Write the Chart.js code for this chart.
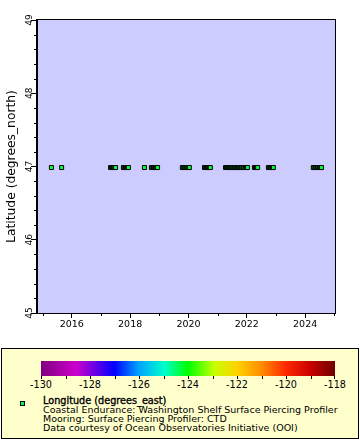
<!DOCTYPE html>
<html><head><meta charset="utf-8">
<script src="https://cdn.jsdelivr.net/npm/chart.js@4/dist/chart.umd.min.js"></script>
<style>
html,body{margin:0;padding:0;background:#fff;width:360px;height:440px;overflow:hidden;font-family:"DejaVu Sans",sans-serif;color:#000}
#wrap{position:absolute;left:0;top:0;width:360px;height:345px}
#lbox{position:absolute;left:1px;top:348px;width:356px;height:89px;border:1px solid #000;background:#ffffcc}
#cbar{position:absolute;left:41px;top:361px;width:294px;height:15px}
.ctick{position:absolute;width:1px;height:3px;background:#000;top:376px}
.clab{position:absolute;top:379px;width:40px;margin-left:-20px;text-align:center;font-size:9.7px;line-height:11px;white-space:pre}
#lmark{position:absolute;left:20px;top:401px;width:3px;height:3px;border:1px solid #000;background:#00ff40}
#ltext{position:absolute;left:43px;top:395.5px;font-size:9.5px;line-height:9px;white-space:pre}
#ltext b{font-weight:normal;font-size:9.7px;-webkit-text-stroke:0.35px #000}
</style>
</head><body>
<div id="wrap"><canvas id="c" width="360" height="345"></canvas></div>
<div id="lbox"></div>
<div id="cbar"></div>
<div id="lmark"></div>
<div id="ltext"><b>Longitude (degrees_east)</b>
Coastal Endurance: Washington Shelf Surface Piercing Profiler
Mooring: Surface Piercing Profiler: CTD
Data courtesy of Ocean Observatories Initiative (OOI)</div>
<script>
// ---- data (decimal years of profiles, latitude in degrees_north) ----
const sampleTimes = [
  2015.30,
  2015.65,
  2017.33, 2017.36, 2017.40, 2017.43, 2017.47, 2017.50,
  2017.77, 2017.80, 2017.84, 2017.87, 2017.91, 2017.94,
  2018.49,
  2018.73, 2018.76, 2018.80, 2018.83, 2018.87, 2018.90, 2018.94,
  2019.79, 2019.82, 2019.86, 2019.89, 2019.93, 2019.96, 2020.00, 2020.03,
  2020.55, 2020.58, 2020.62, 2020.65, 2020.69, 2020.72, 2020.75,
  2021.27, 2021.30, 2021.34, 2021.37, 2021.41, 2021.44, 2021.48, 2021.51,
  2021.55, 2021.58, 2021.62, 2021.65, 2021.68, 2021.72, 2021.75, 2021.79,
  2021.82, 2021.86, 2021.89, 2021.93, 2021.96, 2021.99, 2022.02,
  2022.26, 2022.30, 2022.33, 2022.37,
  2022.74, 2022.77, 2022.81, 2022.84, 2022.88, 2022.91,
  2024.28, 2024.31, 2024.35, 2024.38, 2024.42, 2024.45, 2024.49, 2024.52, 2024.56
];
const sampleLatitude = 46.986;
const sampleLongitude = -124.57;

const xMinorTicks = [2015, 2017, 2019, 2021, 2023, 2025];
const yMinorTicks = [45.2, 45.4, 45.6, 45.8, 46.2, 46.4, 46.6, 46.8, 47.2, 47.4, 47.6, 47.8, 48.2, 48.4, 48.6, 48.8];
const colorTickValues = [-130, -129, -128, -127, -126, -125, -124, -123, -122, -121, -120, -119, -118];
const colorLabelValues = [-130, -128, -126, -124, -122, -120, -118];
const colorMin = -130, colorMax = -118;

// ---- colour bar (legend) ----
const cbar = document.getElementById('cbar');
cbar.style.background = 'linear-gradient(to right,#800080 0%,#cc00cc 12%,#0000ff 25%,#00a0ff 33%,#00ffcc 42%,#00ff00 50%,#c8ff00 59%,#ffd200 66.7%,#ff8c00 75%,#ff2800 83.3%,#c80000 91.7%,#6e0000 100%)';
const cx = v => 41 + (v - colorMin) / (colorMax - colorMin) * 294;
colorTickValues.forEach(v => {
  const d = document.createElement('div');
  d.className = 'ctick';
  d.style.left = Math.min(334, Math.max(41, Math.round(cx(v)))) + 'px';
  document.body.appendChild(d);
});
colorLabelValues.forEach(v => {
  const d = document.createElement('div');
  d.className = 'clab';
  d.style.left = cx(v) + 'px';
  d.textContent = String(v);
  document.body.appendChild(d);
});

// ---- plugins ----
const framePlugin = {
  id: 'frame',
  beforeDraw(chart) {
    const {ctx, chartArea: a} = chart;
    ctx.save();
    ctx.fillStyle = '#ccccff';
    ctx.fillRect(a.left, a.top, a.right - a.left, a.bottom - a.top);
    ctx.restore();
  },
  afterDraw(chart) {
    const {ctx, chartArea: a, scales} = chart;
    ctx.save();
    ctx.strokeStyle = '#000';
    ctx.lineWidth = 1;
    ctx.strokeRect(Math.round(a.left) - 0.5, Math.round(a.top) - 0.5, Math.round(a.right - a.left) + 1, Math.round(a.bottom - a.top) + 1);
    ctx.beginPath();
    xMinorTicks.forEach(v => {
      const px = Math.round(scales.x.getPixelForValue(v)) + 0.5;
      ctx.moveTo(px, a.bottom);
      ctx.lineTo(px, a.bottom + 3);
    });
    yMinorTicks.forEach(v => {
      const py = Math.round(scales.y.getPixelForValue(v)) + 0.5;
      ctx.moveTo(a.left, py);
      ctx.lineTo(a.left - 3, py);
    });
    ctx.stroke();
    ctx.restore();
  }
};

new Chart(document.getElementById('c'), {
  type: 'scatter',
  data: {
    datasets: [{
      label: 'Longitude (degrees_east)',
      data: sampleTimes.map(t => ({x: t, y: sampleLatitude})),
      pointStyle: 'rect',
      pointRadius: 2.83,
      pointHoverRadius: 2.83,
      backgroundColor: '#00ff40',
      borderColor: '#000',
      borderWidth: 1
    }]
  },
  plugins: [framePlugin],
  options: {
    responsive: false,
    animation: false,
    events: [],
    layout: {padding: {left: 0, right: 25, top: 20, bottom: 0}},
    plugins: {legend: {display: false}, tooltip: {enabled: false}},
    scales: {
      x: {
        type: 'linear',
        min: 2014.806,
        max: 2025.023,
        afterFit(s) { s.height = 32; },
        border: {display: true, color: '#000', width: 1},
        grid: {drawOnChartArea: false, drawTicks: true, tickLength: 5, color: '#000', tickColor: '#000'},
        ticks: {
          stepSize: 2,
          includeBounds: false,
          color: '#000',
          padding: 1,
          maxRotation: 0,
          autoSkip: false,
          font: {family: 'DejaVu Sans', size: 9.5},
          callback: v => String(v)
        }
      },
      y: {
        type: 'linear',
        min: 45,
        max: 49,
        afterFit(s) { s.width = 37; },
        border: {display: true, color: '#000', width: 1},
        grid: {drawOnChartArea: false, drawTicks: true, tickLength: 6, color: '#000', tickColor: '#000'},
        title: {
          display: true,
          text: 'Latitude (degrees_north)',
          color: '#000',
          font: {family: 'DejaVu Sans', size: 12.3, lineHeight: 1},
          padding: {top: 6, bottom: 0}
        },
        ticks: {
          stepSize: 1,
          includeBounds: false,
          color: '#000',
          minRotation: 90,
          maxRotation: 90,
          crossAlign: 'center',
          padding: -4,
          autoSkip: false,
          font: {family: 'DejaVu Sans', size: 9},
          callback: v => String(v)
        }
      }
    }
  }
});
</script>
</body></html>
